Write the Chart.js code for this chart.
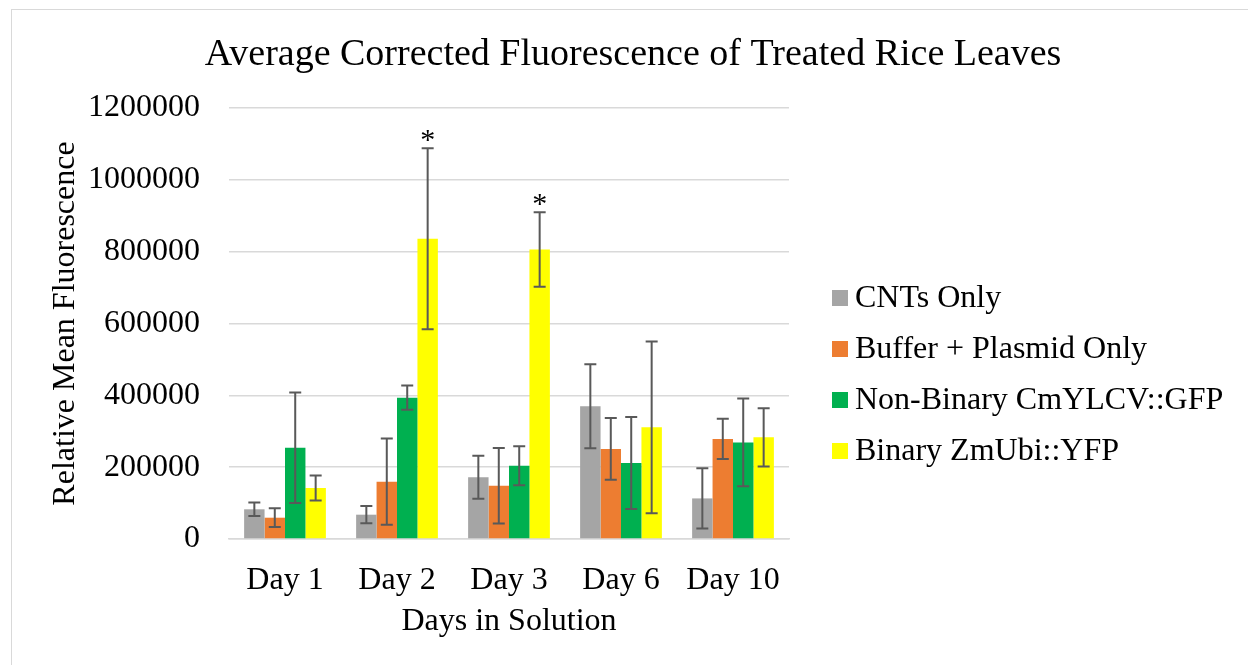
<!DOCTYPE html>
<html>
<head>
<meta charset="utf-8">
<script src="https://cdn.jsdelivr.net/npm/chart.js@4.4.1/dist/chart.umd.min.js"></script>
<style>
  html, body { margin: 0; padding: 0; background: #fff; overflow: hidden; }
  #frame { position: absolute; left: 11px; top: 9px; width: 1400px; height: 800px; border: 1px solid #d9d9d9; }
  #wrap { position: absolute; left: 0; top: 0; width: 1248px; height: 665px; }
</style>
</head>
<body>
<div id="frame"></div>
<div id="wrap"><canvas id="grafico" width="1248" height="665"></canvas></div>
<script>
// dados
var titulo = 'Average Corrected Fluorescence of Treated Rice Leaves';
var categorias = ['Day 1', 'Day 2', 'Day 3', 'Day 6', 'Day 10'];
var ticksY = [0, 200000, 400000, 600000, 800000, 1000000, 1200000];

var cntsOnly = [82700, 67700, 171900, 369600, 113000];
var cntsOnlyErro = [19000, 24000, 60000, 117000, 84000];

var bufferPlasmid = [59300, 159600, 148500, 250700, 278500];
var bufferPlasmidErro = [26000, 120000, 105000, 86000, 56000];

var naoBinario = [254000, 393600, 204000, 211700, 269000];
var naoBinarioErro = [154000, 34000, 54000, 128000, 122000];

var binario = [142000, 835700, 806000, 311000, 283000];
var binarioErro = [35000, 252000, 104000, 239000, 81000];
var binarioMarca = ['', '*', '*', '', ''];

var fonte = '"Liberation Serif", "Times New Roman", serif';

// barras de erro + asteriscos
var pluginErro = {
    id: 'barrasErro',
    afterDatasetsDraw: function(chart) {
        var ctx = chart.ctx;
        var y = chart.scales.y;
        ctx.save();
        chart.data.datasets.forEach(function(ds, i) {
            var meta = chart.getDatasetMeta(i);
            meta.data.forEach(function(bar, j) {
                var v = ds.data[j], e = ds.erro[j];
                var yTop = y.getPixelForValue(v + e);
                var yBot = y.getPixelForValue(v - e);
                ctx.strokeStyle = '#595959';
                ctx.lineWidth = 2;
                ctx.beginPath();
                ctx.moveTo(bar.x, yTop); ctx.lineTo(bar.x, yBot);
                ctx.moveTo(bar.x - 6, yTop); ctx.lineTo(bar.x + 6, yTop);
                ctx.moveTo(bar.x - 6, yBot); ctx.lineTo(bar.x + 6, yBot);
                ctx.stroke();
                if (ds.marca && ds.marca[j]) {
                    ctx.fillStyle = '#000';
                    ctx.font = '30px ' + fonte;
                    ctx.textAlign = 'center';
                    ctx.textBaseline = 'alphabetic';
                    ctx.fillText(ds.marca[j], bar.x, yTop + 1);
                }
            });
        });
        ctx.restore();
    }
};

// titulo e legenda desenhados a mao
var pluginLegenda = {
    id: 'legendaLado',
    afterDraw: function(chart) {
        var ctx = chart.ctx;
        var area = chart.chartArea;
        ctx.save();
        ctx.fillStyle = '#000';
        ctx.font = '38px ' + fonte;
        ctx.textAlign = 'center';
        ctx.textBaseline = 'alphabetic';
        ctx.fillText(titulo, 633, 65);

        ctx.font = '32px ' + fonte;
        ctx.textBaseline = 'middle';
        ctx.textAlign = 'left';
        chart.data.datasets.forEach(function(ds, i) {
            var cy = area.top + 190 + i * 51;
            var x = area.right + 43;
            ctx.fillStyle = ds.backgroundColor;
            ctx.fillRect(x, cy - 8, 16, 16);
            ctx.fillStyle = '#000';
            ctx.fillText(ds.label, x + 23, cy + 1);
        });
        ctx.restore();
    }
};

var ctx = document.getElementById('grafico').getContext('2d');
var chart = new Chart(ctx, {
    type: 'bar',
    data: {
        labels: categorias,
        datasets: [
            { label: 'CNTs Only', data: cntsOnly, erro: cntsOnlyErro, backgroundColor: '#a5a5a5' },
            { label: 'Buffer + Plasmid Only', data: bufferPlasmid, erro: bufferPlasmidErro, backgroundColor: '#ed7d31' },
            { label: 'Non-Binary CmYLCV::GFP', data: naoBinario, erro: naoBinarioErro, backgroundColor: '#00b050' },
            { label: 'Binary ZmUbi::YFP', data: binario, erro: binarioErro, marca: binarioMarca, backgroundColor: '#ffff00' }
        ]
    },
    options: {
        responsive: false,
        animation: false,
        layout: { padding: { left: 12, right: 459, top: 108, bottom: 0 } },
        datasets: { bar: { categoryPercentage: 0.73, barPercentage: 1.0 } },
        plugins: {
            legend: { display: false },
            tooltip: { enabled: false },
            title: { display: false }
        },
        scales: {
            x: {
                grid: { display: false, drawTicks: false },
                border: { color: '#d9d9d9', width: 1.5 },
                ticks: { color: '#000', font: { family: fonte, size: 32 }, padding: 22 },
                title: { display: true, text: 'Days in Solution', color: '#000', font: { family: fonte, size: 32 }, padding: { top: 4, bottom: 24 } },
                afterFit: function(s) { s.height = 126; }
            },
            y: {
                min: 0,
                max: 1200000,
                afterBuildTicks: function(s) { s.ticks = ticksY.map(function(v) { return { value: v }; }); },
                grid: { color: '#d9d9d9', lineWidth: 1.5, drawTicks: false },
                border: { display: false },
                ticks: { color: '#000', font: { family: fonte, size: 32 }, padding: 29, callback: function(v) { return String(v); } },
                title: { display: true, text: 'Relative Mean Fluorescence', color: '#000', font: { family: fonte, size: 32 }, padding: { top: 34, bottom: 0 } },
                afterFit: function(s) { s.width = 217; }
            }
        }
    },
    plugins: [pluginErro, pluginLegenda]
});
</script>
</body>
</html>
